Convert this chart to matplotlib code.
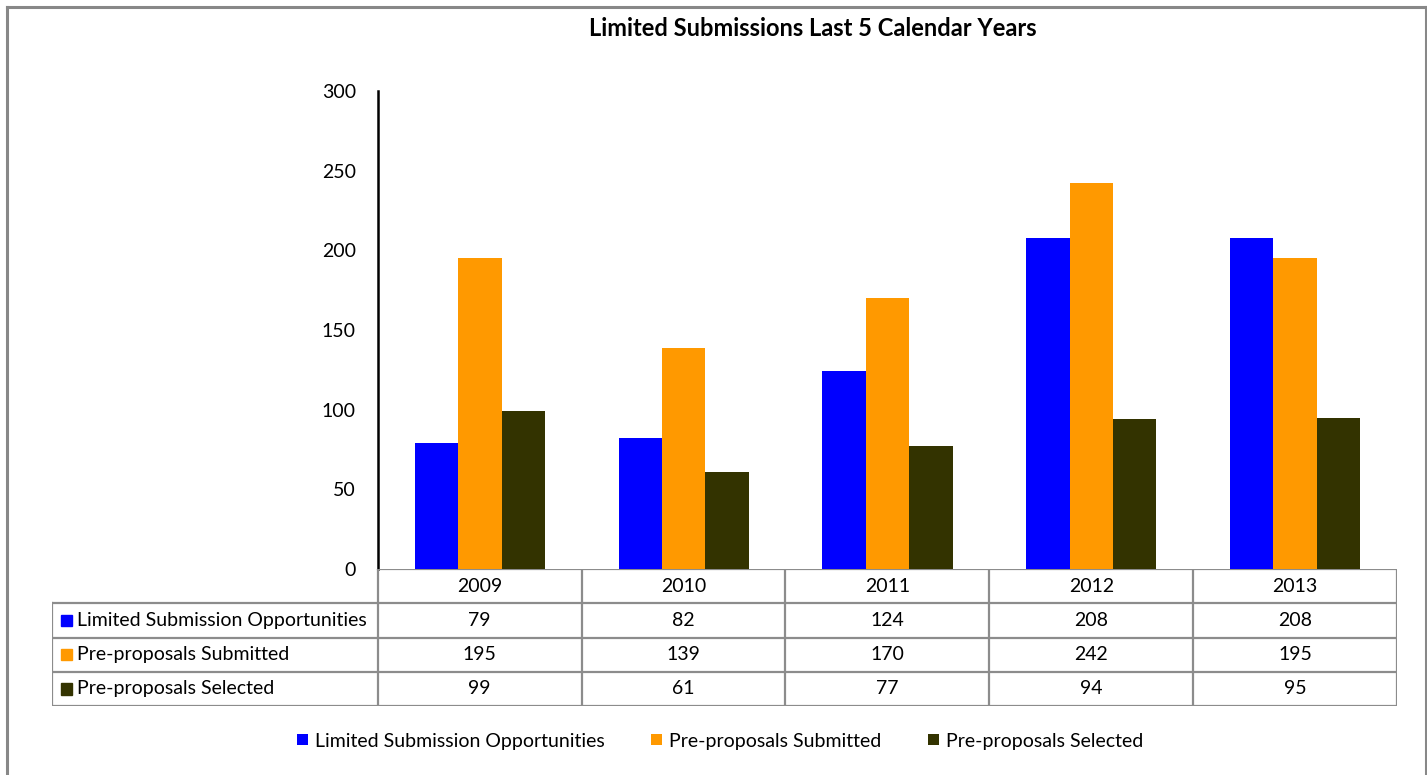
import matplotlib.pyplot as plt
from matplotlib.patches import Rectangle
from matplotlib.lines import Line2D

plt.rcParams['font.family'] = ['Lato', 'DejaVu Sans']

# data
years = ['2009', '2010', '2011', '2012', '2013']
series_names = ['Limited Submission Opportunities', 'Pre-proposals Submitted', 'Pre-proposals Selected']
opportunities = [79, 82, 124, 208, 208]
submitted = [195, 139, 170, 242, 195]
selected = [99, 61, 77, 94, 95]
colors = ['#0000FF', '#FF9900', '#333300']
series_values = [opportunities, submitted, selected]

W, H = 1427, 775
FS = 14
fig = plt.figure(figsize=(W / 100, H / 100), dpi=100)


def px_box(x0, y0, x1, y1):
    # pixel box (top-left origin) -> figure fraction [l, b, w, h]
    return [x0 / W, 1 - y1 / H, (x1 - x0) / W, (y1 - y0) / H]


grid_gray = '#8c8c8c'

# outer frame
for xs, ys in [((7, 7), (7, H + 5)), ((7, 1426), (7, 7)), ((1426, 1426), (7, H + 5))]:
    fig.add_artist(Line2D([x / W for x in xs], [1 - y / H for y in ys],
                          color='#888888', lw=2.2, transform=fig.transFigure))

# main bar axes
ax = fig.add_axes(px_box(378, 91, 1397, 569))
bw = 0.213
for k, (vals, col) in enumerate(zip(series_values, colors)):
    xs = [i + 0.5 + (k - 1) * bw for i in range(len(years))]
    ax.bar(xs, vals, width=bw, color=col, edgecolor='none', label=series_names[k])
ax.set_xlim(0, len(years))
ax.set_ylim(0, 300)
ax.set_yticks(range(0, 301, 50))
ax.tick_params(axis='y', length=0, pad=16, labelsize=FS)
ax.set_xticks([])
for s in ['top', 'right', 'bottom']:
    ax.spines[s].set_visible(False)
ax.spines['left'].set_color('black')
ax.spines['left'].set_linewidth(1.8)

# data table axes
lab_w = (378 - 52) / 204
tab = fig.add_axes(px_box(52, 569, 1397, 706))
tab.set_xlim(-lab_w, len(years))
tab.set_ylim(0, 4)
tab.axis('off')
lkw = dict(color=grid_gray, lw=1.6, solid_capstyle='projecting')
# horizontal lines
tab.plot([0, len(years)], [4, 4], **lkw)
for r in range(4):
    tab.plot([-lab_w, len(years)], [r, r], **lkw)
# vertical lines
tab.plot([-lab_w, -lab_w], [0, 3], **lkw)
for i in range(len(years) + 1):
    tab.plot([i, i], [0, 4], **lkw)

for i, yr in enumerate(years):
    tab.text(i + 0.5, 3.5, yr, ha='center', va='center', fontsize=FS)
sq = 11 / 204
for r, (name, vals, col) in enumerate(zip(series_names, series_values, colors)):
    yc = 2.5 - r
    tab.add_patch(Rectangle((-lab_w + 9 / 204, yc - 0.17), sq, 0.33, color=col))
    tab.text(-lab_w + 25 / 204, yc, name, ha='left', va='center', fontsize=FS)
    for i, v in enumerate(vals):
        tab.text(i + 0.5, yc, str(v), ha='center', va='center', fontsize=FS)

# title
fig.text(813 / W, 1 - 28 / H, 'Limited Submissions Last 5 Calendar Years',
         ha='center', va='center', fontsize=17, fontweight='bold')

# bottom legend
handles, labels = ax.get_legend_handles_labels()
fig.legend(handles, labels, loc='center', bbox_to_anchor=(720 / W, 1 - 741 / H), ncol=3,
           frameon=False, fontsize=FS, handlelength=0.55, handleheight=0.55,
           handletextpad=0.37, columnspacing=2.4)

fig.savefig('out.png', dpi=100, facecolor='white')
